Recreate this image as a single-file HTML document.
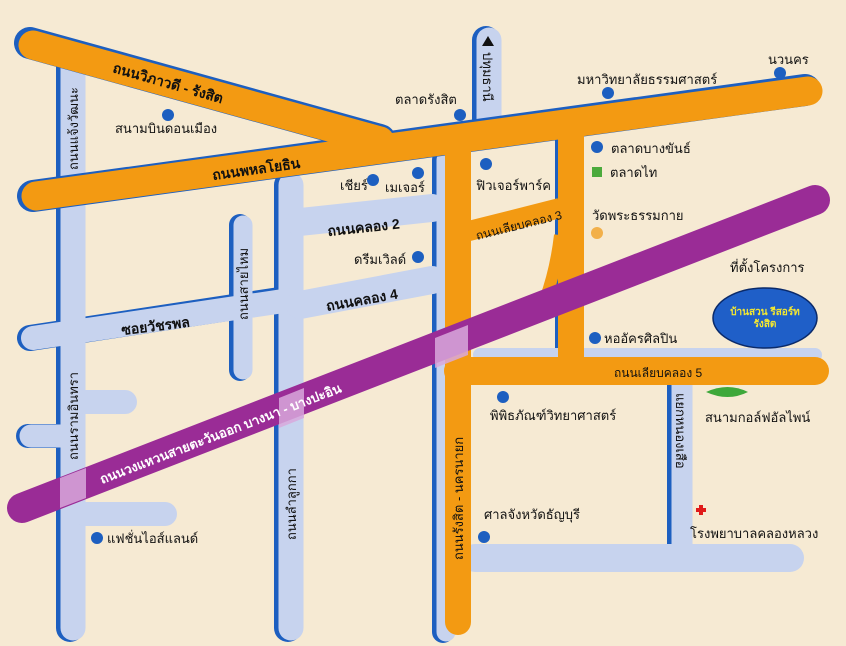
<!DOCTYPE html>
<html><head><meta charset="utf-8"><style>
html,body{margin:0;padding:0;background:#f6ead3;}
svg{display:block}
text{font-family:"Liberation Sans","Noto Sans CJK SC",sans-serif;}
</style></head><body>
<svg width="846" height="646" viewBox="0 0 846 646" xmlns="http://www.w3.org/2000/svg">
<rect width="846" height="646" fill="#f6ead3"/>
<g stroke-linecap="round" fill="none">
<g stroke="#1d5fc0">
<line x1="70" y1="62" x2="70" y2="628" stroke-width="28"/>
<line x1="288" y1="185" x2="288" y2="628" stroke-width="28"/>
<line x1="443" y1="160" x2="443" y2="632" stroke-width="22"/>
<line x1="486" y1="40" x2="486" y2="130" stroke-width="28"/>
<line x1="240" y1="225" x2="240" y2="370" stroke-width="22"/>
<line x1="679" y1="385" x2="679" y2="545" stroke-width="24"/>
<line x1="30" y1="338" x2="280" y2="300" stroke-width="26"/>
<line x1="28" y1="436" x2="70" y2="436" stroke-width="24"/>
<line x1="558" y1="140" x2="558" y2="350" stroke-width="6"/>
</g>
<g stroke="#c7d3ee">
<line x1="73" y1="62" x2="73" y2="628" stroke-width="25"/>
<line x1="291" y1="185" x2="291" y2="628" stroke-width="25"/>
<line x1="446" y1="160" x2="446" y2="632" stroke-width="19"/>
<line x1="489" y1="40" x2="489" y2="130" stroke-width="25"/>
<line x1="243" y1="225" x2="243" y2="370" stroke-width="19"/>
<line x1="682" y1="385" x2="682" y2="545" stroke-width="21"/>
<line x1="33" y1="338" x2="290" y2="300" stroke-width="24"/>
<line x1="300" y1="305" x2="432" y2="280" stroke-width="28"/>
<line x1="300" y1="222" x2="432" y2="208" stroke-width="28"/>
<line x1="85" y1="402" x2="125" y2="402" stroke-width="24"/>
<line x1="31" y1="436" x2="70" y2="436" stroke-width="23"/>
<line x1="85" y1="514" x2="165" y2="514" stroke-width="24"/>
<line x1="475" y1="558" x2="790" y2="558" stroke-width="28"/>
<line x1="480" y1="355" x2="815" y2="355" stroke-width="14"/>
</g>
<g stroke="#1d5fc0">
<line x1="30" y1="43" x2="380" y2="140" stroke-width="32"/>
<line x1="33" y1="196" x2="805" y2="90" stroke-width="32"/>
</g>
<g stroke="#f39a12">
<line x1="33" y1="45" x2="380" y2="141" stroke-width="29"/>
<line x1="36" y1="196" x2="808" y2="91" stroke-width="29"/>
<line x1="458" y1="140" x2="458" y2="622" stroke-width="26"/>
<line x1="571" y1="125" x2="571" y2="360" stroke-width="26"/>
<line x1="458" y1="371" x2="815" y2="371" stroke-width="28"/>
<line x1="465" y1="232" x2="560" y2="208" stroke-width="20" stroke-linecap="butt"/>
<path d="M545 300 Q556 270 560 235" stroke-width="12" stroke-linecap="butt"/>
</g>
<line x1="22" y1="508" x2="815" y2="200" stroke="#9a2c96" stroke-width="30"/>
</g>
<g fill="#d8a8dc" opacity="0.85">
<polygon points="60,478 86,468 86,498 60,508"/>
<polygon points="279,398 304,388 304,418 279,428"/>
<polygon points="435,338 468,325 468,355 435,368"/>
</g>
<polygon points="482,46 488,36 494,46" fill="#111"/>
<g font-size="14" fill="#111" font-weight="bold">
<text transform="translate(112,72) rotate(16)">ถนนวิภาวดี - รังสิต</text>
<text transform="translate(213,180) rotate(-8)">ถนนพหลโยธิน</text>
<text transform="translate(328,236) rotate(-6)">ถนนคลอง 2</text>
<text transform="translate(327,311) rotate(-10)">ถนนคลอง 4</text>
<text transform="translate(122,335) rotate(-7)">ซอยวัชรพล</text>
<text transform="translate(102,484) rotate(-21)" fill="#fff" font-size="13">ถนนวงแหวนสายตะวันออก บางนา - บางปะอิน</text>
</g>
<g font-size="12" fill="#111">
<text transform="translate(477,240) rotate(-14)">ถนนเลียบคลอง 3</text>
<text x="614" y="377">ถนนเลียบคลอง 5</text>
</g>
<g font-size="13" fill="#111">
<text transform="translate(78,170) rotate(-90)">ถนนแจ้งวัฒนะ</text>
<text transform="translate(78,460) rotate(-90)">ถนนรามอินทรา</text>
<text transform="translate(296,540) rotate(-90)">ถนนลำลูกกา</text>
<text transform="translate(248,320) rotate(-90)">ถนนสายไหม</text>
<text transform="translate(463,560) rotate(-90)">ถนนรังสิต - นครนายก</text>
<text transform="translate(483,52) rotate(90)">ปทุมธานี</text>
<text transform="translate(676,393) rotate(90)">แยกหนองเสือ</text>
</g>
<g fill="#1d5fc0">
<circle cx="168" cy="115" r="6"/><circle cx="460" cy="115" r="6"/>
<circle cx="608" cy="93" r="6"/><circle cx="780" cy="73" r="6"/>
<circle cx="373" cy="180" r="6"/><circle cx="418" cy="173" r="6"/>
<circle cx="486" cy="164" r="6"/><circle cx="597" cy="147" r="6"/>
<circle cx="418" cy="257" r="6"/><circle cx="595" cy="338" r="6"/>
<circle cx="503" cy="397" r="6"/><circle cx="484" cy="537" r="6"/>
<circle cx="97" cy="538" r="6"/>
</g>
<circle cx="597" cy="233" r="6" fill="#f2b04a"/>
<rect x="592" y="167" width="10" height="10" fill="#4caa3c"/>
<path d="M706 392 Q728 382 748 392 Q728 402 706 392Z" fill="#3ea83a"/>
<path d="M696 510h10M701 505v10" stroke="#e01a1a" stroke-width="4"/>
<g font-size="13" fill="#111">
<text x="115" y="133">สนามบินดอนเมือง</text>
<text x="395" y="104">ตลาดรังสิต</text>
<text x="577" y="84">มหาวิทยาลัยธรรมศาสตร์</text>
<text x="768" y="64">นวนคร</text>
<text x="340" y="190">เชียร์</text>
<text x="385" y="192">เมเจอร์</text>
<text x="476" y="190">ฟิวเจอร์พาร์ค</text>
<text x="611" y="153">ตลาดบางขันธ์</text>
<text x="610" y="177">ตลาดไท</text>
<text x="592" y="220">วัดพระธรรมกาย</text>
<text x="730" y="272">ที่ตั้งโครงการ</text>
<text x="354" y="264">ดรีมเวิลด์</text>
<text x="604" y="343">หออัครศิลปิน</text>
<text x="490" y="420">พิพิธภัณฑ์วิทยาศาสตร์</text>
<text x="705" y="422">สนามกอล์ฟอัลไพน์</text>
<text x="484" y="519">ศาลจังหวัดธัญบุรี</text>
<text x="690" y="538">โรงพยาบาลคลองหลวง</text>
<text x="107" y="543">แฟชั่นไอส์แลนด์</text>
</g>
<ellipse cx="765" cy="318" rx="52" ry="30" fill="#1f5fc8" stroke="#0a2a6a" stroke-width="1.5"/>
<text x="765" y="315" font-size="10" fill="#f4e830" text-anchor="middle" font-weight="bold">บ้านสวน รีสอร์ท</text>
<text x="765" y="327" font-size="10" fill="#f4e830" text-anchor="middle" font-weight="bold">รังสิต</text>
</svg>
</body></html>
